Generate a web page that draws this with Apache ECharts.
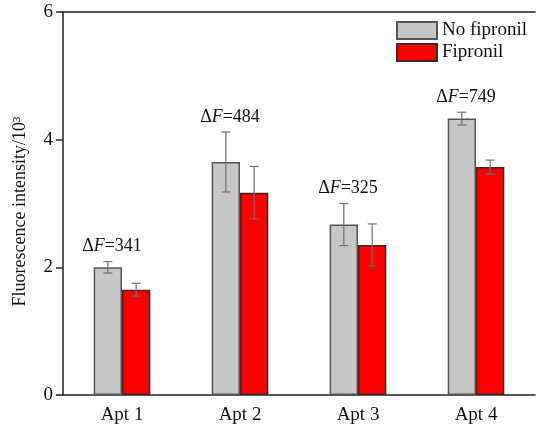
<!DOCTYPE html>
<html>
<head>
<meta charset="utf-8">
<script src="https://cdn.jsdelivr.net/npm/echarts@6/dist/echarts.min.js"></script>
<style>html,body{margin:0;padding:0;background:#fff;}#c{width:536px;height:425px;}</style>
</head>
<body>
<div id="c"></div>
<script>
var categories = ['Apt 1', 'Apt 2', 'Apt 3', 'Apt 4'];
var noFipronil = [2.00, 3.65, 2.67, 4.33];
var noFipronilErr = [0.09, 0.47, 0.33, 0.10];
var fipronil = [1.65, 3.17, 2.35, 3.57];
var fipronilErr = [0.10, 0.41, 0.33, 0.11];
var deltaF = [341, 484, 325, 749];
var yTicks = [0, 2, 4, 6];

var FONT = '"Liberation Serif", "DejaVu Serif", serif';
var BAND_OFF = 0.12;

function errData(vals, errs) {
  return vals.map(function (v, i) { return [i, v, errs[i]]; });
}
function errRender(side) {
  return function (params, api) {
    var i = api.value(0), v = api.value(1), e = api.value(2);
    var band = api.size([1, 0])[0];
    var c = api.coord([i, v]);
    var x = c[0] + side * BAND_OFF * band;
    var yt = api.coord([i, v + e])[1];
    var yb = api.coord([i, v - e])[1];
    var cap = 4.5;
    var st = { stroke: '#6e6e6e', lineWidth: 1.2, fill: null };
    return {
      type: 'group',
      children: [
        { type: 'line', shape: { x1: x, y1: yt, x2: x, y2: yb }, style: st },
        { type: 'line', shape: { x1: x - cap, y1: yt, x2: x + cap, y2: yt }, style: st },
        { type: 'line', shape: { x1: x - cap, y1: yb, x2: x + cap, y2: yb }, style: st }
      ]
    };
  };
}

var labelData = deltaF.map(function (d, i) {
  return [i, noFipronil[i] + noFipronilErr[i], d];
});

var chart = echarts.init(document.getElementById('c'));
chart.setOption({
  animation: false,
  backgroundColor: '#fff',
  textStyle: { fontFamily: FONT },
  grid: { left: 63, right: 1, top: 12, bottom: 30, containLabel: false },
  legend: {
    orient: 'vertical',
    left: 396, top: 21,
    itemWidth: 40, itemHeight: 17, itemGap: 3,
    padding: 0,
    textStyle: { fontFamily: FONT, fontSize: 19, color: '#111' },
    data: [
      { name: 'No fipronil', icon: 'rect' },
      { name: 'Fipronil', icon: 'rect' }
    ]
  },
  xAxis: [{
    type: 'category',
    data: categories,
    axisLine: { lineStyle: { color: '#222', width: 1.5 } },
    axisTick: { alignWithLabel: true, length: 6, lineStyle: { color: '#222', width: 1.5 } },
    axisLabel: { fontFamily: FONT, fontSize: 19, color: '#111', margin: 11 },
    splitLine: { show: false }
  }, {
    type: 'category',
    position: 'top',
    data: categories,
    axisLine: { show: true, lineStyle: { color: '#222', width: 1.5 } },
    axisTick: { show: false },
    axisLabel: { show: false }
  }],
  yAxis: {
    type: 'value',
    min: yTicks[0], max: yTicks[yTicks.length - 1], interval: 2,
    name: 'Fluorescence intensity/10³',
    nameLocation: 'middle',
    nameGap: 34,
    nameTextStyle: { fontFamily: FONT, fontSize: 18, color: '#111', padding: [0, 16, 0, 0] },
    axisLine: { show: true, lineStyle: { color: '#222', width: 1.5 } },
    axisTick: { show: true, length: 7, lineStyle: { color: '#222', width: 1.5 } },
    axisLabel: { fontFamily: FONT, fontSize: 19, color: '#111', margin: 10 },
    splitLine: { show: false }
  },
  series: [
    {
      name: 'No fipronil', type: 'bar', data: noFipronil,
      barWidth: '24%', barGap: '0%',
      itemStyle: { color: '#c6c6c6', borderColor: '#555', borderWidth: 1.5 }
    },
    {
      name: 'Fipronil', type: 'bar', data: fipronil,
      barWidth: '24%', barGap: '0%',
      itemStyle: { color: '#ff0000', borderColor: '#3a2a2a', borderWidth: 1.5 }
    },
    {
      type: 'custom', name: 'errNo', data: errData(noFipronil, noFipronilErr),
      renderItem: errRender(-1), z: 5, silent: true
    },
    {
      type: 'custom', name: 'errF', data: errData(fipronil, fipronilErr),
      renderItem: errRender(1), z: 5, silent: true
    },
    {
      type: 'custom', name: 'dF', data: labelData, z: 6, silent: true,
      renderItem: function (params, api) {
        var c = api.coord([api.value(0), api.value(1)]);
        return {
          type: 'text',
          x: c[0] - 10,
          y: c[1] - 6,
          style: {
            text: '{n|Δ}{i|F}{n|=' + api.value(2) + '}',
            align: 'center',
            verticalAlign: 'bottom',
            rich: {
              n: { fontFamily: FONT, fontSize: 18, fill: '#111' },
              i: { fontFamily: FONT, fontSize: 18, fontStyle: 'italic', fill: '#111' }
            }
          }
        };
      }
    }
  ]
});
</script>
</body>
</html>
